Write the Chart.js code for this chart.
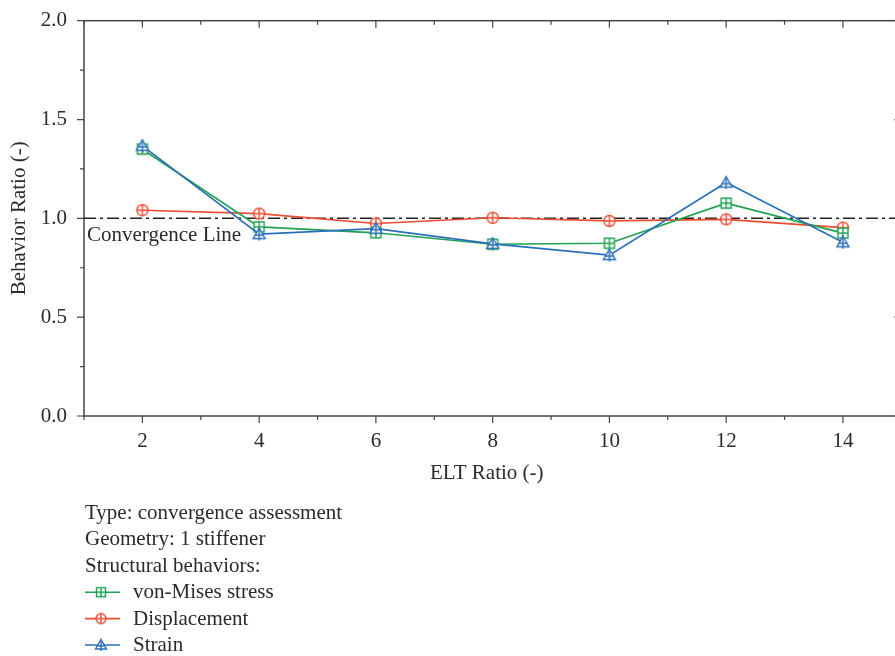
<!DOCTYPE html>
<html><head><meta charset="utf-8">
<script src="https://cdn.jsdelivr.net/npm/chart.js@4"></script>
<style>
html,body{margin:0;padding:0;overflow:hidden;background:#fff;width:895px;height:656px}
#wrap{position:relative;width:910px;height:656px}
</style>
</head><body><div id="wrap"><canvas id="c" width="910" height="656"></canvas></div>
<script>
// ---- data ----
const eltRatio = [2, 4, 6, 8, 10, 12, 14];
const vonMises = [1.35, 0.957, 0.927, 0.869, 0.874, 1.077, 0.925];
const displacement = [1.041, 1.024, 0.974, 1.003, 0.987, 0.995, 0.953];
const strain = [1.367, 0.92, 0.948, 0.871, 0.814, 1.181, 0.879];
const convergenceX = [1, 15];
const convergenceY = [1, 1];
const xTickLabels = ['2', '4', '6', '8', '10', '12', '14'];
const yTickLabels = ['0.0', '0.5', '1.0', '1.5', '2.0'];
const seriesNames = ['von-Mises stress', 'Displacement', 'Strain'];
const infoLines = ['Type: convergence assessment', 'Geometry: 1 stiffener', 'Structural behaviors:'];
const convergenceLabel = 'Convergence Line';
const xTitle = 'ELT Ratio (-)';
const yTitle = 'Behavior Ratio (-)';

// ---- styles ----
const GREEN = '#1fa251', RED = '#ee4b33', BLUE = '#2a6fba', AXIS = '#444', TXT = '#2b2b2b';
const FONT = 'Liberation Serif';

function marker(kind, color, s) {
  const c = document.createElement('canvas');
  c.width = 16; c.height = 16;
  const g = c.getContext('2d');
  g.strokeStyle = color; g.lineWidth = 1.4; g.fillStyle = '#fff';
  const m = 8;
  g.beginPath();
  if (kind === 'square') {
    g.rect(m - s, m - s, 2 * s, 2 * s); g.fill(); g.stroke();
    g.beginPath(); g.moveTo(m, m - s); g.lineTo(m, m + s); g.moveTo(m - s, m); g.lineTo(m + s, m); g.stroke();
  } else if (kind === 'circle') {
    g.arc(m, m, s, 0, Math.PI * 2); g.fill(); g.stroke();
    g.beginPath(); g.moveTo(m, m - s); g.lineTo(m, m + s); g.moveTo(m - s, m); g.lineTo(m + s, m); g.stroke();
  } else {
    g.moveTo(m, m - s - 0.5); g.lineTo(m + s + 0.5, m + s - 1); g.lineTo(m - s - 0.5, m + s - 1); g.closePath(); g.fill(); g.stroke();
    g.beginPath(); g.moveTo(m, m - s - 0.5); g.lineTo(m, m + s + 1); g.moveTo(m - s + 1, m + 1); g.lineTo(m + s - 1, m + 1); g.stroke();
  }
  return c;
}
const mk = { vm: marker('square', GREEN, 5), dp: marker('circle', RED, 5.5), st: marker('triangle', BLUE, 5.5) };
const lg = { vm: marker('square', GREEN, 4.5), dp: marker('circle', RED, 5), st: marker('triangle', BLUE, 5) };

function pts(xs, ys) { return xs.map((x, i) => ({ x: x, y: ys[i] })); }

const frameAndTextPlugin = {
  id: 'frameText',
  beforeDatasetsDraw(chart) {
    const { ctx, chartArea: a, scales: { x, y } } = chart;
    ctx.save();
    ctx.strokeStyle = AXIS; ctx.lineWidth = 1.5;
    ctx.strokeRect(a.left, a.top, a.right - a.left, a.bottom - a.top);
    ctx.lineWidth = 1.2;
    ctx.beginPath();
    for (let v = 1; v <= 15; v++) {
      const px = x.getPixelForValue(v);
      const L = v % 2 === 0 ? 7 : 4;
      ctx.moveTo(px, a.bottom); ctx.lineTo(px, a.bottom + L);
      ctx.moveTo(px, a.top); ctx.lineTo(px, a.top + L);
    }
    for (let v = 0; v <= 2.0001; v += 0.25) {
      const py = y.getPixelForValue(v);
      const L = Math.abs(v * 2 - Math.round(v * 2)) < 1e-6 ? 7 : 4;
      ctx.moveTo(a.left, py); ctx.lineTo(a.left - L, py);
      ctx.moveTo(a.right, py); ctx.lineTo(a.right - L, py);
    }
    ctx.stroke();
    ctx.restore();
  },
  afterDraw(chart) {
    const { ctx, chartArea: a, scales: { x, y } } = chart;
    ctx.save();
    ctx.fillStyle = TXT;
    ctx.font = '21px "' + FONT + '"';
    ctx.textAlign = 'left'; ctx.textBaseline = 'alphabetic';
    ctx.fillText(convergenceLabel, a.left + 3, y.getPixelForValue(1) + 23);
    ctx.textAlign = 'center'; ctx.textBaseline = 'middle';
    ctx.fillText(xTitle, (x.getPixelForValue(1) + x.getPixelForValue(14.8)) / 2, 473);
    ctx.save();
    ctx.translate(19, y.getPixelForValue(1));
    ctx.rotate(-Math.PI / 2);
    ctx.fillText(yTitle, 0, 0);
    ctx.restore();
    ctx.textAlign = 'left'; ctx.textBaseline = 'alphabetic';
    const x0 = 85, base0 = 519, step = 26.4;
    infoLines.forEach((t, i) => ctx.fillText(t, x0, base0 + i * step));
    const cols = [GREEN, RED, BLUE], ims = [lg.vm, lg.dp, lg.st];
    seriesNames.forEach((t, i) => {
      const by = base0 + (i + 3) * step;
      const cy = by - 6;
      ctx.strokeStyle = cols[i]; ctx.lineWidth = 1.6;
      ctx.beginPath(); ctx.moveTo(x0, cy); ctx.lineTo(x0 + 35, cy); ctx.stroke();
      ctx.drawImage(ims[i], x0 + 16 - 8, cy - 8);
      ctx.fillStyle = TXT;
      ctx.fillText(t, x0 + 48, by);
    });
    ctx.restore();
  }
};

new Chart(document.getElementById('c'), {
  type: 'line',
  data: {
    datasets: [
      { label: seriesNames[2], data: pts(eltRatio, strain), borderColor: BLUE, borderWidth: 1.7, pointStyle: mk.st, pointRadius: 7 },
      { label: seriesNames[0], data: pts(eltRatio, vonMises), borderColor: GREEN, borderWidth: 1.7, pointStyle: mk.vm, pointRadius: 7 },
      { label: seriesNames[1], data: pts(eltRatio, displacement), borderColor: RED, borderWidth: 1.7, pointStyle: mk.dp, pointRadius: 7 },
      { label: convergenceLabel, data: pts(convergenceX, convergenceY), borderColor: '#222', borderWidth: 1.5, borderDash: [12, 4, 3, 4], pointRadius: 0 }
    ]
  },
  options: {
    responsive: false, devicePixelRatio: 1, animation: false,
    layout: { padding: { top: 20.7, right: 8.6, bottom: 0, left: 0 } },
    plugins: { legend: { display: false }, tooltip: { enabled: false } },
    elements: { line: { tension: 0 } },
    scales: {
      x: {
        type: 'linear', min: 1, max: 15, position: 'bottom',
        grid: { display: false }, border: { display: false },
        afterBuildTicks: s => { s.ticks = xTickLabels.map(v => ({ value: +v })); },
        ticks: { autoSkip: false, maxRotation: 0, padding: 5, color: TXT, font: { family: FONT, size: 21 }, callback: v => String(v) },
        afterFit: s => { s.height = 656 - 416; s.paddingLeft = 0; s.paddingRight = 0; }
      },
      y: {
        type: 'linear', min: 0, max: 2,
        grid: { display: false }, border: { display: false },
        afterBuildTicks: s => { s.ticks = yTickLabels.map(v => ({ value: +v })); },
        ticks: { padding: 9, color: TXT, font: { family: FONT, size: 21 }, callback: (v, i) => yTickLabels[i] },
        afterFit: s => { s.width = 84; s.paddingTop = 0; s.paddingBottom = 0; }
      }
    }
  },
  plugins: [frameAndTextPlugin]
});
</script>
</body></html>
